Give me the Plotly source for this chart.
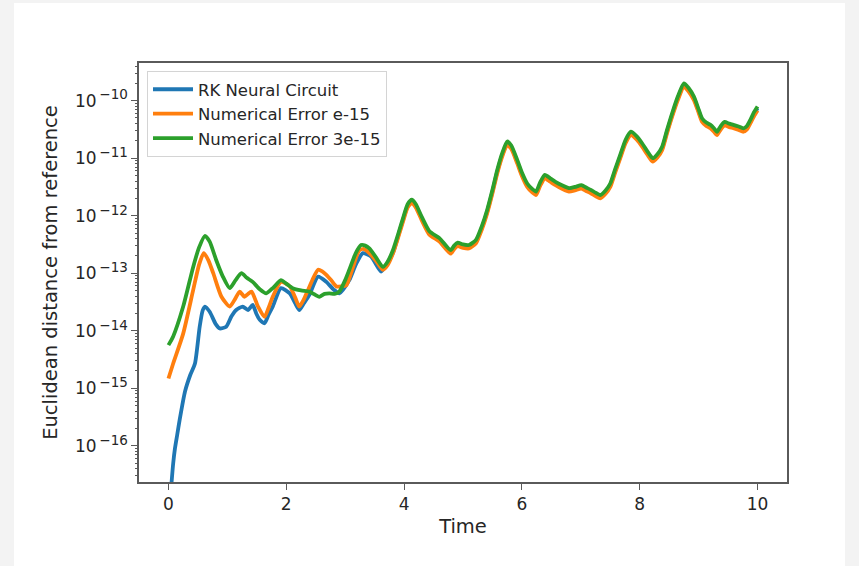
import plotly.graph_objects as go

# ---- data; values stored as log10 of the distance ----
t_green = [0.00, 0.08, 0.25, 0.42, 0.52, 0.62, 0.70, 0.81, 0.92, 1.04, 1.14, 1.24, 1.33, 1.43,
           1.55, 1.66, 1.78, 1.91, 2.00, 2.11, 2.25, 2.39, 2.50, 2.56, 2.65, 2.73, 2.82, 2.90,
           3.00, 3.07, 3.18, 3.27, 3.34, 3.41, 3.52, 3.64, 3.72, 3.81, 3.92, 3.98, 4.06, 4.13,
           4.20, 4.30, 4.43, 4.60, 4.79, 4.85, 4.91, 5.00, 5.10, 5.22, 5.32, 5.41, 5.50, 5.58,
           5.67, 5.75, 5.82, 5.92, 6.00, 6.09, 6.17, 6.24, 6.31, 6.39, 6.48, 6.57, 6.68, 6.80,
           6.90, 7.01, 7.09, 7.17, 7.25, 7.33, 7.42, 7.50, 7.58, 7.67, 7.76, 7.85, 7.95, 8.04,
           8.13, 8.22, 8.30, 8.38, 8.46, 8.55, 8.65, 8.75, 8.83, 8.92, 9.00, 9.06, 9.13, 9.20,
           9.26, 9.31, 9.37, 9.44, 9.52, 9.59, 9.68, 9.76, 9.82, 9.88, 9.94, 10.00]
log_green = [-14.25, -14.10, -13.58, -12.89, -12.55, -12.35, -12.45, -12.77, -13.05, -13.26,
             -13.12, -13.00, -13.08, -13.15, -13.28, -13.35, -13.25, -13.12, -13.18, -13.26,
             -13.30, -13.32, -13.38, -13.41, -13.36, -13.35, -13.36, -13.32, -13.12, -12.94,
             -12.65, -12.51, -12.52, -12.57, -12.72, -12.89, -12.80, -12.60, -12.25, -12.05,
             -11.80, -11.72, -11.80, -12.02, -12.27, -12.39, -12.60, -12.52, -12.47, -12.50,
             -12.51, -12.42, -12.18, -11.90, -11.55, -11.21, -10.90, -10.71, -10.78, -11.03,
             -11.25, -11.44, -11.53, -11.58, -11.42, -11.29, -11.35, -11.41, -11.47, -11.52,
             -11.50, -11.47, -11.51, -11.55, -11.60, -11.64, -11.56, -11.44, -11.20, -10.94,
             -10.68, -10.54, -10.62, -10.74, -10.88, -11.00, -10.93, -10.80, -10.52, -10.22,
             -9.92, -9.70, -9.78, -9.93, -10.15, -10.31, -10.38, -10.42, -10.48, -10.54,
             -10.45, -10.37, -10.40, -10.42, -10.45, -10.48, -10.44, -10.33, -10.20, -10.10]

t_orange = [0.00, 0.08, 0.25, 0.42, 0.52, 0.60, 0.68, 0.76, 0.90, 1.04, 1.13, 1.21, 1.29, 1.35,
            1.41, 1.52, 1.63, 1.70, 1.77, 1.91, 2.06, 2.15, 2.22, 2.30, 2.37, 2.46, 2.54, 2.61,
            2.68, 2.76, 2.85, 2.93, 3.02, 3.13, 3.24, 3.32, 3.41, 3.52, 3.64, 3.72, 3.81, 3.92,
            3.98, 4.06, 4.13, 4.20, 4.30, 4.43, 4.60, 4.79, 4.85, 4.91, 5.00, 5.10, 5.22, 5.32,
            5.41, 5.50, 5.58, 5.67, 5.75, 5.82, 5.92, 6.00, 6.09, 6.17, 6.24, 6.31, 6.39, 6.48,
            6.57, 6.68, 6.80, 6.90, 7.01, 7.09, 7.17, 7.25, 7.33, 7.42, 7.50, 7.58, 7.67, 7.76,
            7.85, 7.95, 8.04, 8.13, 8.22, 8.30, 8.38, 8.46, 8.55, 8.65, 8.75, 8.83, 8.92, 9.00,
            9.06, 9.13, 9.20, 9.26, 9.31, 9.37, 9.44, 9.52, 9.59, 9.68, 9.76, 9.82, 9.88, 9.94,
            10.00]
log_orange = [-14.83, -14.57, -14.05, -13.29, -12.85, -12.65, -12.78, -13.00, -13.41, -13.58,
              -13.45, -13.32, -13.41, -13.36, -13.32, -13.58, -13.76, -13.60, -13.41, -13.15,
              -13.23, -13.42, -13.58, -13.45, -13.29, -13.08, -12.94, -12.97, -13.03, -13.12,
              -13.23, -13.23, -13.21, -12.90, -12.60, -12.58, -12.65, -12.78, -12.94, -12.86,
              -12.66, -12.31, -12.11, -11.86, -11.78, -11.86, -12.08, -12.33, -12.45, -12.66,
              -12.58, -12.53, -12.56, -12.57, -12.48, -12.24, -11.96, -11.61, -11.27, -10.96,
              -10.77, -10.84, -11.09, -11.31, -11.50, -11.59, -11.64, -11.48, -11.35, -11.41,
              -11.47, -11.53, -11.58, -11.56, -11.53, -11.57, -11.61, -11.66, -11.70, -11.62,
              -11.50, -11.26, -11.00, -10.74, -10.60, -10.68, -10.80, -10.94, -11.06, -10.99,
              -10.86, -10.58, -10.28, -9.98, -9.76, -9.84, -9.99, -10.21, -10.37, -10.44,
              -10.48, -10.54, -10.60, -10.51, -10.43, -10.46, -10.48, -10.51, -10.54, -10.50,
              -10.39, -10.27, -10.17]

t_blue = [0.04, 0.08, 0.11, 0.15, 0.19, 0.28, 0.37, 0.45, 0.53, 0.58, 0.62, 0.70, 0.80, 0.87,
          0.98, 1.07, 1.15, 1.26, 1.35, 1.43, 1.49, 1.55, 1.63, 1.70, 1.77, 1.91, 2.06, 2.15,
          2.22, 2.30, 2.39, 2.54, 2.68, 2.80, 2.90, 3.07, 3.18, 3.30, 3.44, 3.61, 3.70, 3.81,
          3.92, 3.98, 4.06, 4.13, 4.20, 4.30, 4.43, 4.60, 4.79, 4.85, 4.91, 5.00, 5.10, 5.22,
          5.32, 5.41, 5.50, 5.58, 5.67, 5.75, 5.82, 5.92, 6.00, 6.09, 6.17, 6.24, 6.31, 6.39,
          6.48, 6.57, 6.68, 6.80, 6.90, 7.01, 7.09, 7.17, 7.25, 7.33, 7.42, 7.50, 7.58, 7.67,
          7.76, 7.85, 7.95, 8.04, 8.13, 8.22, 8.30, 8.38, 8.46, 8.55, 8.65, 8.75, 8.83, 8.92,
          9.00, 9.06, 9.13, 9.20, 9.26, 9.31, 9.37, 9.44, 9.52, 9.59, 9.68, 9.76, 9.82, 9.88,
          9.94, 10.00]
log_blue = [-16.80, -16.31, -16.05, -15.80, -15.55, -15.06, -14.77, -14.57, -13.93, -13.65,
            -13.58, -13.67, -13.88, -13.96, -13.93, -13.75, -13.64, -13.58, -13.64, -13.55,
            -13.70, -13.81, -13.87, -13.72, -13.58, -13.26, -13.35, -13.52, -13.64, -13.52,
            -13.38, -13.06, -13.15, -13.28, -13.35, -13.12, -12.85, -12.65, -12.71, -12.97,
            -12.85, -12.65, -12.28, -12.08, -11.83, -11.75, -11.83, -12.05, -12.30, -12.42,
            -12.63, -12.55, -12.50, -12.53, -12.54, -12.45, -12.21, -11.93, -11.58, -11.24,
            -10.93, -10.74, -10.81, -11.06, -11.28, -11.47, -11.56, -11.61, -11.45, -11.32,
            -11.38, -11.44, -11.50, -11.55, -11.53, -11.50, -11.54, -11.58, -11.63, -11.67,
            -11.59, -11.47, -11.23, -10.97, -10.71, -10.57, -10.65, -10.77, -10.91, -11.03,
            -10.96, -10.83, -10.55, -10.25, -9.95, -9.73, -9.81, -9.96, -10.18, -10.34,
            -10.41, -10.45, -10.51, -10.57, -10.48, -10.40, -10.43, -10.45, -10.48, -10.51,
            -10.47, -10.36, -10.23, -10.13]

series_names = ["RK Neural Circuit", "Numerical Error e-15", "Numerical Error 3e-15"]
series_colors = ["#1f77b4", "#ff7f0e", "#2ca02c"]

x_tick_vals = [0, 2, 4, 6, 8, 10]
y_major_exp = [-16, -15, -14, -13, -12, -11, -10]
y_tick_labels = ["10<sup><span style='font-size:13.5px'>\u2009\u2212%d</span></sup>" % (-e)
                 for e in y_major_exp]

# ---- layout geometry ----
W, H = 859, 566
L, R, T, B = 139, 859 - 787, 63, 566 - 482
pw, ph = W - L - R, H - T - B
y_range = [-16.63, -9.345]

fig = go.Figure()
for tt, ll, name, col in [(t_blue, log_blue, series_names[0], series_colors[0]),
                          (t_orange, log_orange, series_names[1], series_colors[1]),
                          (t_green, log_green, series_names[2], series_colors[2])]:
    fig.add_trace(go.Scatter(x=tt, y=[10 ** v for v in ll], mode="lines", name=name,
                             line=dict(color=col, width=3.8, shape="spline", smoothing=0.6)))

# invisible trace to anchor the minor-tick overlay axis
fig.add_trace(go.Scatter(x=[None], y=[None], yaxis="y2", showlegend=False, hoverinfo="skip"))

minor_vals = []
for e in range(-17, -9):
    for m in range(2, 10):
        minor_vals.append(m * 10.0 ** e)

txt = "#262626"
frame = "#5a5a5a"

# white card on light-grey page
fig.add_shape(type="rect", xref="paper", yref="paper", layer="below",
              x0=(14 - L) / pw, x1=(845 - L) / pw, y0=(482 - 570) / ph, y1=(482 - 3) / ph,
              fillcolor="white", line=dict(width=0))

fig.update_layout(
    width=W, height=H,
    margin=dict(l=L, r=R, t=T, b=B, pad=0),
    paper_bgcolor="#f3f3f3",
    plot_bgcolor="white",
    font=dict(family="DejaVu Sans", color=txt, size=17),
    showlegend=True,
    legend=dict(x=(147 - L) / pw, y=(482 - 71) / ph, xanchor="left", yanchor="top",
                bgcolor="white", bordercolor="#d4d4d4", borderwidth=1,
                font=dict(size=16.5, color=txt), itemwidth=40, tracegroupgap=0),
    xaxis=dict(range=[-0.5, 10.5], tickvals=x_tick_vals, ticks="outside", ticklen=6,
               tickwidth=1.3, tickcolor=frame, showline=True, linecolor=frame, linewidth=1.5,
               mirror=True, showgrid=False, zeroline=False,
               tickfont=dict(size=17, color=txt),
               title=dict(text="Time", font=dict(size=19.5, color=txt), standoff=6)),
    yaxis=dict(type="log", range=y_range, tickvals=[10.0 ** e for e in y_major_exp],
               ticktext=y_tick_labels, ticks="outside", ticklen=6, tickwidth=1.3,
               tickcolor=frame, showline=True, linecolor=frame, linewidth=1.5, mirror=True,
               showgrid=False, zeroline=False, tickfont=dict(size=17, color=txt),
               title=dict(text="Euclidean distance from reference",
                          font=dict(size=19.5, color=txt), standoff=12)),
    yaxis2=dict(type="log", range=y_range, overlaying="y", side="left", tickvals=minor_vals,
                ticks="outside", ticklen=3.5, tickwidth=1, tickcolor=frame,
                showticklabels=False, showline=False, showgrid=False, zeroline=False),
)

fig.write_html("out.html",
               config={"displayModeBar": False},
               post_script="document.body.style.margin='0';"
                           "document.body.style.background='#f3f3f3';")
